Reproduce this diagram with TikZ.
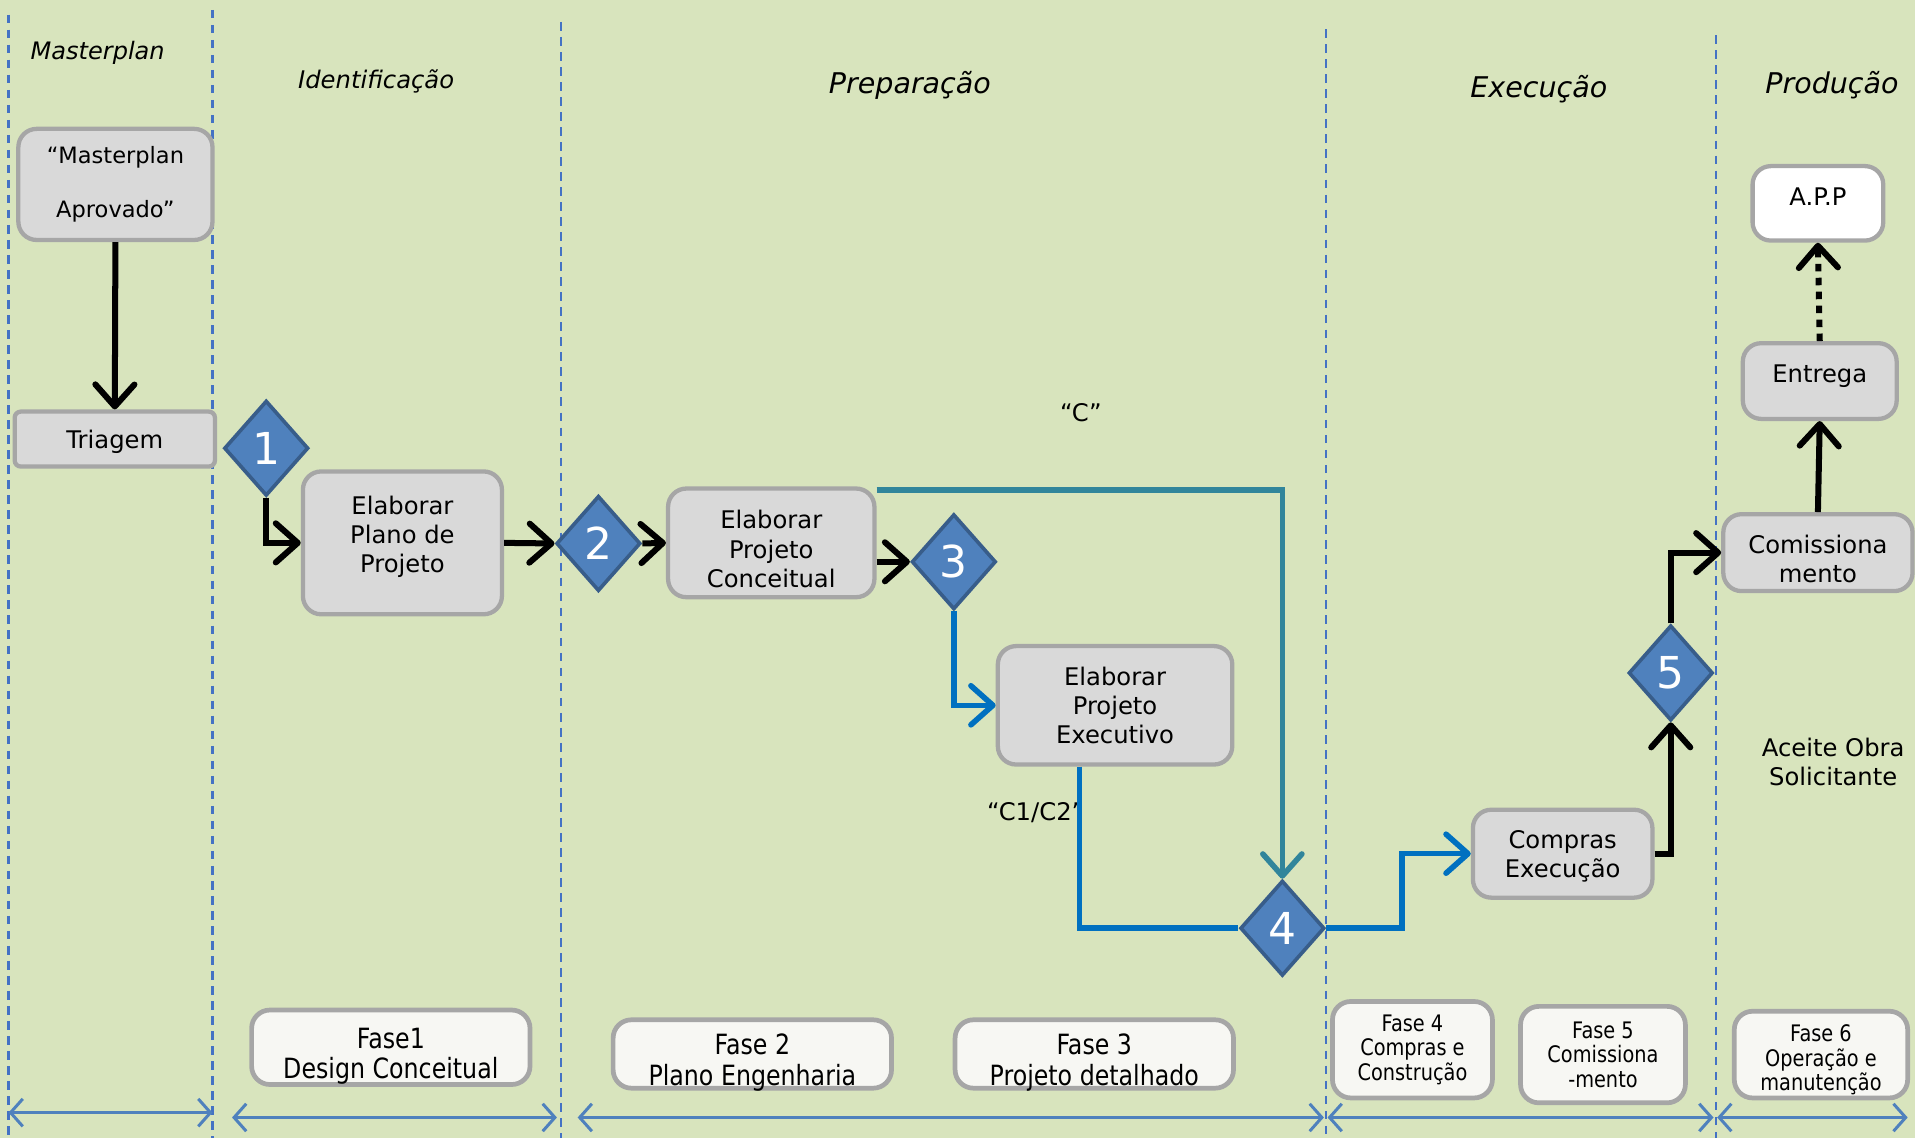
\documentclass[tikz,border=0pt]{standalone}
\usepackage{xcolor}
\usepackage{fontspec}
\setmainfont{DejaVu Sans}
\newfontfamily\fasefont[FakeStretch=0.85]{DejaVu Sans}
\usepackage{tikz}
\usetikzlibrary{arrows.meta,shapes.geometric,positioning}
\definecolor{bggreen}{RGB}{216,228,189}
\definecolor{laneblue}{RGB}{68,114,196}
\definecolor{boxgray}{RGB}{217,217,217}
\definecolor{boxline}{RGB}{166,166,166}
\definecolor{phasefill}{RGB}{247,247,243}
\definecolor{diafill}{RGB}{79,129,189}
\definecolor{dialine}{RGB}{56,93,138}
\definecolor{flowblue}{RGB}{0,112,192}
\definecolor{flowteal}{RGB}{49,133,155}

\tikzset{
  box/.style={draw=boxline, fill=boxgray, line width=2pt, rounded corners=0.3cm, align=center, inner sep=2pt},
  decision/.style={diamond, draw=dialine, fill=diafill, line width=1.7pt, inner sep=0pt,
    minimum width=1.38cm, minimum height=1.56cm, text=white, font=\fontsize{20.5}{24}\selectfont},
  phase/.style={draw=boxline, fill=phasefill, line width=2.2pt, rounded corners=0.3cm, align=center,
    inner sep=1pt, text height=1.03cm, text depth=0pt, font=\fasefont\fontsize{13}{14.2}\selectfont},
  smallphase/.style={draw=boxline, fill=phasefill, line width=2.2pt, rounded corners=0.3cm, align=center,
    inner sep=1pt, font=\fasefont\fontsize{10.6}{11.4}\selectfont},
  lanetitle/.style={font=\itshape\fontsize{13.3}{16}\selectfont},
  flow/.style={draw=black, line width=2.8pt, -{Straight Barb[length=0.36cm,width=0.64cm,round]}},
  blueflow/.style={flow, draw=flowblue, line width=2.6pt},
  tealflow/.style={flow, draw=flowteal, line width=2.6pt},
  lane/.style={draw=laneblue, line width=1pt, dash pattern=on 4pt off 3pt},
  span/.style={draw=diafill, line width=1.4pt,
    {Straight Barb[length=0.2cm,width=0.45cm]}-{Straight Barb[length=0.2cm,width=0.45cm]}}
}

\begin{document}
\begin{tikzpicture}[x=0.02cm, y=-0.02cm, font=\fontsize{11.3}{13.6}\selectfont]

\fill[bggreen, use as bounding box] (0,0) rectangle (1568,932);

% lanes
\foreach \x/\t in {7/12, 174/8, 459/18, 1086/24, 1405/29}
  \draw[lane] (\x,\t) -- (\x,932);

\foreach \a/\b/\y in {7/174/911, 190/456/915, 473/1084/915, 1087/1403/915, 1406/1562/915}
  \draw[span] (\a,\y) -- (\b,\y);

% lane titles
\node (tmaster) at (80,43) [lanetitle, font=\itshape\fontsize{11.2}{13}\selectfont]{Masterplan};
\node (tident) at (308,67) [lanetitle, font=\itshape\fontsize{11.3}{13}\selectfont]{Identificação};
\node (tprep) at (745,70) [lanetitle]{Preparação};
\node (texec) at (1260,73) [lanetitle]{Execução};
\node (tprod) at (1500,70) [lanetitle]{Produção};

% process boxes
\node (ma) at (94.5,151) [box, minimum width=3.18cm, minimum height=1.82cm,
  font=\fontsize{10.5}{25.5}\selectfont]{“Masterplan\\Aprovado”};
\node (triage) at (94,359.5) [box, rounded corners=0.1cm, minimum width=3.28cm, minimum height=0.9cm,
  text depth=0pt]{Triagem};
\node (plano) at (329.5,444.5) [box, minimum width=3.26cm, minimum height=2.34cm,
  text depth=0.28cm]{Elaborar\\Plano de\\Projeto};
\node (concep) at (631.5,444.5) [box, minimum width=3.38cm, minimum height=1.78cm,
  text height=1.46cm]{Elaborar\\Projeto\\Conceitual};
\node (exec) at (913,577.5) [box, minimum width=3.84cm, minimum height=1.94cm]{Elaborar\\Projeto\\Executivo};
\node (compras) at (1279.5,699) [box, minimum width=2.94cm, minimum height=1.44cm,
  text depth=0pt]{Compras\\Execução};
\node (comis) at (1488.5,452.5) [box, minimum width=3.1cm, minimum height=1.26cm,
  text height=0.98cm]{Comissiona\\mento};
\node (entrega) at (1490,312) [box, minimum width=2.52cm, minimum height=1.24cm]{Entrega\\[-0.25cm]};
\node (app) at (1488.5,166.5) [box, fill=white, minimum width=2.14cm, minimum height=1.22cm]{A.P.P\\[-0.25cm]};

% decisions
\node (d1) at (218,367) [decision]{1};
\node (d2) at (490,445) [decision]{2};
\node (d3) at (781,460) [decision]{3};
\node (d4) at (1050,760) [decision]{4};
\node (d5) at (1368,551) [decision]{5};

% labels
\node (lc) at (885,338) {“C”};
\node (lc12) at (848,665) {“C1/C2”};
\node (laceite) at (1501,624) [align=center]{Aceite Obra\\Solicitante};

% phases
\node (f1) at (320,857.5) [phase, minimum width=4.56cm, minimum height=1.22cm]{Fase1\\Design Conceitual};
\node (f2) at (616,863) [phase, minimum width=4.56cm, minimum height=1.12cm]{Fase 2\\Plano Engenharia};
\node (f3) at (896,863) [phase, minimum width=4.56cm, minimum height=1.12cm]{Fase 3\\Projeto detalhado};
\node (f4) at (1156.5,859.5) [smallphase, minimum width=2.62cm, minimum height=1.58cm]{Fase 4\\Compras e\\Construção};
\node (f5) at (1312.5,863.5) [smallphase, minimum width=2.7cm, minimum height=1.58cm,
  text depth=0pt]{Fase 5\\Comissiona\\-mento};
\node (f6) at (1491,863.5) [smallphase, minimum width=2.84cm, minimum height=1.42cm,
  text height=1.18cm, text depth=0pt]{Fase 6\\Operação e\\manutenção};

% connectors
\draw[flow] (ma.south) -- (triage.north);
\draw[flow] (d1.south) |- (plano.west);
\draw[flow] (plano.east) -- (d2.west);
\draw[flow] (d2.east) -- (concep.west);
\draw[flow] (d3.west -| concep.east) -- (d3.west);
\draw[blueflow] (d3.south) |- (exec.west);
\draw[tealflow] ([yshift=-0.06cm]concep.north east) -| (d4.north);
\draw[blueflow, -] ([xshift=-0.58cm]exec.south) |- (d4.west);
\draw[blueflow] (d4.east) -- ++(62,0) |- (compras.west);
\draw[flow] (compras.east) -| (d5.south);
\draw[flow] (d5.north) |- (comis.west);
\draw[flow] (comis.north) -- (entrega.south);
\draw[flow, dash pattern=on 3.5pt off 3pt] (entrega.north) -- (app.south);

\end{tikzpicture}
\end{document}
